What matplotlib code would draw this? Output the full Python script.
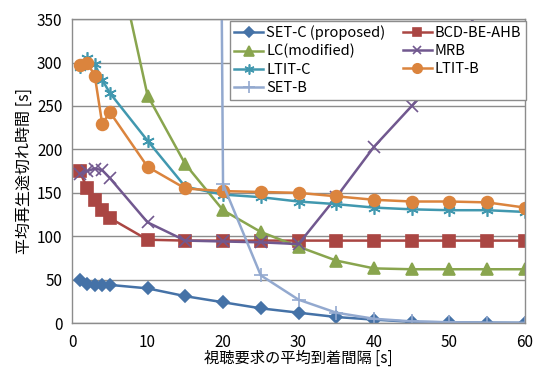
import matplotlib
matplotlib.use('Agg')
import matplotlib.pyplot as plt

plt.rcParams['font.family'] = ['Noto Sans CJK JP', 'DejaVu Sans']

x = [1, 2, 3, 4, 5, 10, 15, 20, 25, 30, 35, 40, 45, 50, 55, 60]

set_c = [50, 45, 44, 44, 44, 40, 31, 24, 17, 12, 7, 4, 1.5, 0.8, 0.5, 0.3]
bcd = [175, 155, 142, 130, 121, 96, 95, 95, 95, 95, 95, 95, 95, 95, 95, 95]
lc = [900, 780, 660, 560, 460, 262, 183, 130, 105, 88, 72, 63, 62, 62, 62, 62]
mrb = [172, 175, 178, 176, 167, 116, 95, 94, 93, 91, 145, 203, 250, 300, 380, 450]
ltit_c = [295, 305, 298, 280, 265, 210, 157, 148, 145, 140, 137, 133, 131, 130, 130, 128]
ltit_b = [297, 300, 285, 229, 243, 180, 155, 152, 151, 150, 146, 142, 140, 140, 139, 133]
set_b = [9000, 8800, 8500, 8200, 8000, 7000, 6000, 160, 55, 27, 12, 5, 2, 1, 0.5, 0.3]

series = [
    ('SET-C (proposed)', set_c, '#4572A7', 'D', 6.5),
    ('BCD-BE-AHB', bcd, '#AA4643', 's', 8),
    ('LC(modified)', lc, '#89A54E', '^', 8.5),
    ('MRB', mrb, '#71588F', 'x', 8),
    ('LTIT-C', ltit_c, '#4198AF', (6, 2, 0), 9),
    ('LTIT-B', ltit_b, '#DB843D', 'o', 8.5),
    ('SET-B', set_b, '#93A9CF', '+', 10),
]

fig = plt.figure(figsize=(5.34, 3.68), dpi=100)
ax = fig.add_axes([0.135, 0.122, 0.848, 0.826])

handles = {}
for name, ys, color, marker, ms in series:
    h, = ax.plot(x, ys, color=color, marker=marker, markersize=ms, linewidth=1.8,
                 markeredgewidth=1.2, label=name)
    handles[name] = h

ax.set_xlim(0, 60)
ax.set_ylim(0, 350)
ax.set_xticks(range(0, 61, 10))
ax.set_yticks(range(0, 351, 50))
ax.tick_params(length=0, labelsize=11)
ax.tick_params(axis='x', pad=8)
ax.tick_params(axis='y', pad=7)
ax.grid(axis='y', color='#8c8c8c', linewidth=1)
ax.set_axisbelow(True)
for s in ax.spines.values():
    s.set_color('#8c8c8c')
    s.set_linewidth(1)

ax.set_xlabel('視聴要求の平均到着間隔 [s]', fontsize=11, labelpad=-1)
ax.set_ylabel('平均再生途切れ時間 [s]', fontsize=11.5, labelpad=3)

order = ['SET-C (proposed)', 'LC(modified)', 'LTIT-C', 'SET-B',
         'BCD-BE-AHB', 'MRB', 'LTIT-B']
leg = ax.legend([handles[n] for n in order], order, ncol=2, loc='upper right',
                bbox_to_anchor=(1.005, 1.0), fontsize=10.5, fancybox=False,
                framealpha=1, edgecolor='#8c8c8c', borderpad=0.3,
                labelspacing=0.3, handlelength=2.0, handletextpad=0.2,
                columnspacing=1.2, borderaxespad=0.1, markerscale=0.8)
leg.get_frame().set_linewidth(1)

fig.savefig('out.png', dpi=100)
